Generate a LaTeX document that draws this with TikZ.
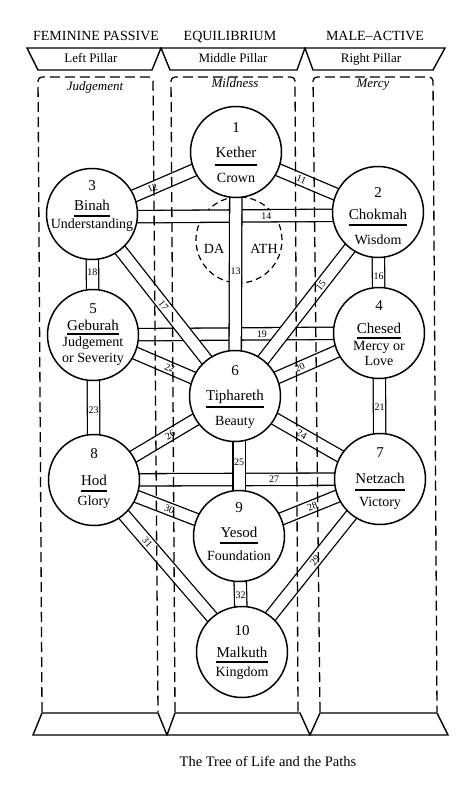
\documentclass[tikz,border=0pt]{standalone}
\usepackage{fontspec}
\setmainfont{Liberation Serif}
\usetikzlibrary{calc}
\newcommand\sefira[8]{%
  \node[sef] (#1-c) at (#1) {};
  \node[numtxt] (#1-num) at ($(#1)+(0,#5)$) {#2};
  \node[nametxt] (#1-name) at ($(#1)+(0,#6)$) {#3};
  \coordinate (#1-ul) at ($(#1)+(0,#7)$);
  \draw[uline] (#1-name.west |- #1-ul) -- (#1-name.east |- #1-ul);
  \node[meantxt] (#1-mean) at ($(#1)+(0,#8)$) {#4};}
\begin{document}
\begin{tikzpicture}[x=1pt,y=-1pt,
  band/.style={double=white, double distance=11pt, line width=1.3pt},
  sef/.style={circle, draw, line width=1.5pt, fill=white, minimum size=91pt, inner sep=0pt},
  numtxt/.style={anchor=base, inner sep=0pt, font=\fontsize{15}{15}\selectfont},
  nametxt/.style={anchor=base, inner sep=0pt, font=\fontsize{15}{15}\selectfont},
  meantxt/.style={anchor=base, inner sep=0pt, font=\fontsize{14}{14}\selectfont},
  uline/.style={line width=1.3pt},
  plabel/.style={font=\fontsize{10}{10}\selectfont, inner sep=0pt, sloped},
  vlabel/.style={font=\fontsize{10}{10}\selectfont, inner sep=0pt},
  pillar/.style={line width=1.3pt, dash pattern=on 10pt off 5pt, rounded corners=4pt},
  trap/.style={line width=1.4pt, line join=miter},
  hdr/.style={anchor=base, inner sep=0pt, font=\fontsize{14}{14}\selectfont},
  plab/.style={anchor=base, inner sep=0pt, font=\fontsize{13}{13}\selectfont},
  ital/.style={anchor=base, inner sep=0pt, font=\fontsize{13}{13}\selectfont\itshape},
  daath/.style={circle, draw, line width=1.2pt, dash pattern=on 6pt off 4pt, minimum size=86pt, inner sep=0pt},
  dtxt/.style={anchor=base, inner sep=0pt, font=\fontsize{14}{14}\selectfont},
]
\useasboundingbox (0,0) rectangle (474,792);
% coordinates of the sephiroth
\coordinate (kether) at (236,152);
\coordinate (chokmah) at (378,212);
\coordinate (binah) at (92,214);
\coordinate (chesed) at (379,333);
\coordinate (geburah) at (93,335);
\coordinate (tiphareth) at (235,396);
\coordinate (netzach) at (380,479);
\coordinate (hod) at (94,480);
\coordinate (yesod) at (239,536);
\coordinate (malkuth) at (242,652);

% headers
\node[hdr] (h-fem) at (96,41) {FEMININE PASSIVE};
\node[hdr] (h-eq) at (230,41) {EQUILIBRIUM};
\node[hdr] (h-male) at (375,41) {MALE–ACTIVE};
\draw[trap] (27,48) -- (161,48) -- (152,70) -- (38,70) -- cycle;
\draw[trap] (161,48) -- (305,48) -- (297,70) -- (170,70) -- cycle;
\draw[trap] (305,48) -- (445,48) -- (433,70) -- (313,70) -- cycle;
\node[plab] (p-left) at (91,63) {Left Pillar};
\node[plab] (p-mid) at (233,63) {Middle Pillar};
\node[plab] (p-right) at (371,63) {Right Pillar};
\node[ital] (i-left) at (95,90) {Judgement};
\node[ital] (i-mid) at (235,88) {Mildness};
\node[ital] (i-right) at (373,87) {Mercy};

% bottom trapezoids
\draw[trap] (42,713) -- (158,713) -- (167,735) -- (33,735) -- cycle;
\draw[trap] (175,713) -- (300,713) -- (310,735) -- (167,735) -- cycle;
\draw[trap] (320,713) -- (437,713) -- (448,735) -- (310,735) -- cycle;
\node[anchor=base, inner sep=0pt, font=\fontsize{14.5}{14.5}\selectfont] (caption) at (268,766) {The Tree of Life and the Paths};

% Daath
\node[daath] (daath) at (239,240) {};

% horizontal paths
\draw[band] ([yshift=-3pt]binah) -- node[plabel, pos=0.61] {14} ([yshift=-3pt]chokmah);
\draw[band] (geburah) -- node[plabel, pos=0.59] {19} (chesed);
\draw[band] (hod) -- node[plabel, pos=0.63] {27} (netzach);
% diagonal paths
\draw[band] (binah) -- node[plabel, pos=0.42] {12} (kether);
\draw[band] (kether) -- node[plabel, pos=0.46] {11} (chokmah);
\draw[band] (chokmah) -- node[plabel, pos=0.40] {15} (tiphareth);
\draw[band] (binah) -- node[plabel, pos=0.50] {17} (tiphareth);
\draw[band] (geburah) -- node[plabel, pos=0.54] {22} (tiphareth);
\draw[band] (chesed) -- node[plabel, pos=0.55] {20} (tiphareth);
\draw[band] (hod) -- node[plabel, pos=0.54] {26} (tiphareth);
\draw[band] (tiphareth) -- node[plabel, pos=0.46] {24} (netzach);
\draw[band] (hod) -- node[plabel, pos=0.52] {30} (yesod);
\draw[band] (yesod) -- node[plabel, pos=0.52] {28} (netzach);
\draw[band] (hod) -- node[plabel, pos=0.36] {31} (malkuth);
\draw[band] (malkuth) -- node[plabel, pos=0.53] {29} (netzach);
% vertical paths
\draw[band] (kether) -- node[vlabel, pos=0.49] {13} (tiphareth);
\draw[band] (yesod |- tiphareth) -- node[vlabel, pos=0.47] {25} (yesod);
\draw[band] (binah) -- node[vlabel, pos=0.48] {18} (geburah);
\draw[band] (chokmah) -- node[vlabel, pos=0.53] {16} (chesed);
\draw[band] (geburah) -- node[vlabel, pos=0.52] {23} (hod);
\draw[band] (chesed) -- node[vlabel, pos=0.51] {21} (netzach);
\draw[band] (yesod) -- node[vlabel, pos=0.51] {32} (malkuth);

\node[dtxt] (da1) at (214,253) {DA};
\node[dtxt] (da2) at (264,253) {ATH};

% pillars (dashed)
\draw[pillar] (42,712) -- (38,77) -- (153,77) -- (158,712);
\draw[pillar] (175,712) -- (171,77) -- (295,77) -- (298,712);
\draw[pillar] (320,712) -- (313,77) -- (433,77) -- (437,712);

% sephiroth
\sefira{kether}{1}{Kether}{Crown}{-20}{5}{13}{30}
\sefira{chokmah}{2}{Chokmah}{Wisdom}{-15}{7}{13}{32}
\sefira{binah}{3}{Binah}{Understanding}{-24}{-4}{2}{14}
\sefira{chesed}{4}{Chesed}{Mercy or}{-23}{0}{5}{17}
\node[meantxt] (chesed-mean2) at ($(chesed)+(0,32)$) {Love};
\sefira{geburah}{5}{Geburah}{Judgement}{-22}{-5}{-1}{11}
\node[meantxt] (geburah-mean2) at ($(geburah)+(0,27)$) {or Severity};
\sefira{tiphareth}{6}{Tiphareth}{Beauty}{-21}{4}{11}{29}
\sefira{netzach}{7}{Netzach}{Victory}{-22}{4}{11}{27}
\sefira{hod}{8}{Hod}{Glory}{-22}{5}{11}{25}
\sefira{yesod}{9}{Yesod}{Foundation}{-24}{1}{7}{24}
\sefira{malkuth}{10}{Malkuth}{Kingdom}{-17}{5}{10}{24}
\end{tikzpicture}
\end{document}
